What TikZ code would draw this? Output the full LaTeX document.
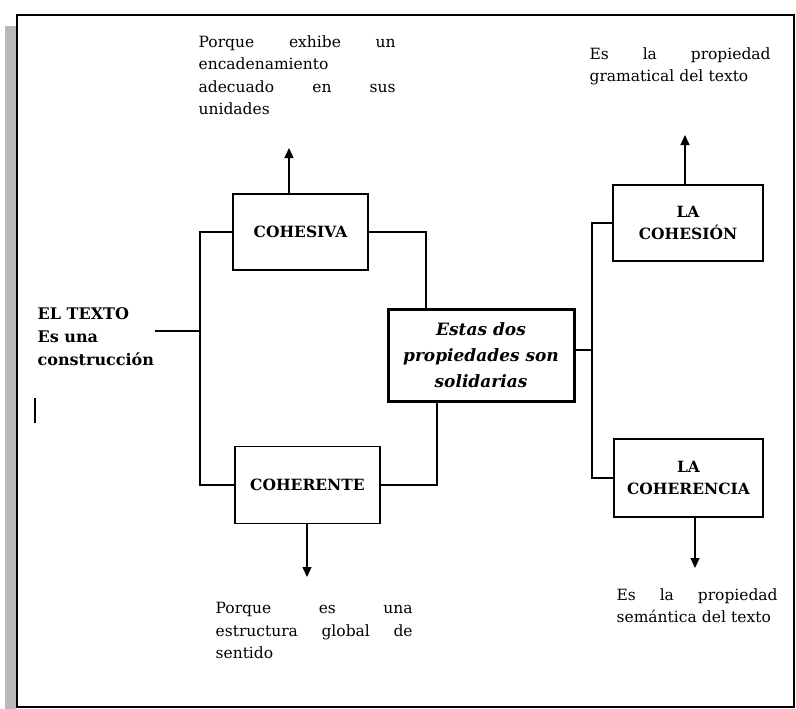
\documentclass[tikz,border=0pt]{standalone}
\usepackage{fontspec}
\setmainfont{DejaVu Serif}
\usetikzlibrary{arrows.meta}

\tikzset{
  box/.style={draw, line width=1.3pt, align=center, font=\bfseries\fontsize{15.5}{22}\selectfont},
  note/.style={anchor=north west, inner sep=0pt, align=left, font=\fontsize{15.5}{22.5}\selectfont},
  tip/.style={-{Triangle[width=9pt,length=10pt]}, line width=1.3pt}
}

\begin{document}
\begin{tikzpicture}[x=1pt, y=-1pt, line width=1.3pt]
\useasboundingbox (0,0) rectangle (796,709);
% page frame with shadow
\fill[gray!55] (5,26) rectangle (16,709);
\draw[line width=1.8pt] (17,15) rectangle (794,707);

\node[note, font=\bfseries\fontsize{16}{23}\selectfont] (eltexto) at (37,307) {EL TEXTO\\ Es una\\ construcción};
\draw (35,398) -- (35,423);

\node[box, minimum width=135pt, minimum height=76pt] (cohesiva)   at (300.5,232) {COHESIVA};
\node[box, minimum width=145pt, minimum height=77pt] (coherente)  at (307.5,485) {COHERENTE};
\node[box, line width=3pt, minimum width=186pt, minimum height=92pt,
      font=\bfseries\itshape\fontsize{17}{26}\selectfont] (solid) at (481,355)
      {Estas dos\\ propiedades son\\ solidarias};
\node[box, minimum width=150pt, minimum height=76pt] (cohesion)   at (688,223) {LA\\ COHESIÓN};
\node[box, minimum width=149pt, minimum height=78pt] (coherencia) at (688.5,478) {LA\\ COHERENCIA};

\node[note, text width=197pt] (porqueA) at (198,35)
  {Porque\hfill exhibe\hfill un\\ encadenamiento\\ adecuado\hfill en\hfill sus\\ unidades};
\node[note, text width=181pt] (gramA) at (589,47)
  {Es\hfill la\hfill propiedad\\ gramatical del texto};
\node[note, text width=197pt] (porqueB) at (215,602)
  {Porque\hfill es\hfill una\\ estructura\hfill global\hfill de\\ sentido};
\node[note, text width=161pt] (semA) at (616,588)
  {Es\hfill la\hfill propiedad\\ semántica del texto};

% branches
\coordinate (trunkL) at (200,331);
\coordinate (trunkR) at (592,350);
\draw (trunkL -| eltexto.east) -- (trunkL);
\draw (cohesiva.west) -| (trunkL) |- (coherente.west);
\draw (cohesiva.east) -| ([xshift=-55pt]solid.north);
\draw (coherente.east) -| ([xshift=-44pt]solid.south);
\draw (solid.east |- trunkR) -- (trunkR);
\draw (cohesion.west) -| (trunkR) |- (coherencia.west);

% arrows to the notes
\coordinate (tipA) at (289,148);
\coordinate (tipB) at (685,135);
\coordinate (tipC) at (307,577);
\coordinate (tipD) at (695,568);
\draw[tip] (cohesiva.north -| tipA) -- (tipA);
\draw[tip] (cohesion.north -| tipB) -- (tipB);
\draw[tip] (coherente.south -| tipC) -- (tipC);
\draw[tip] (coherencia.south -| tipD) -- (tipD);
\end{tikzpicture}
\end{document}
